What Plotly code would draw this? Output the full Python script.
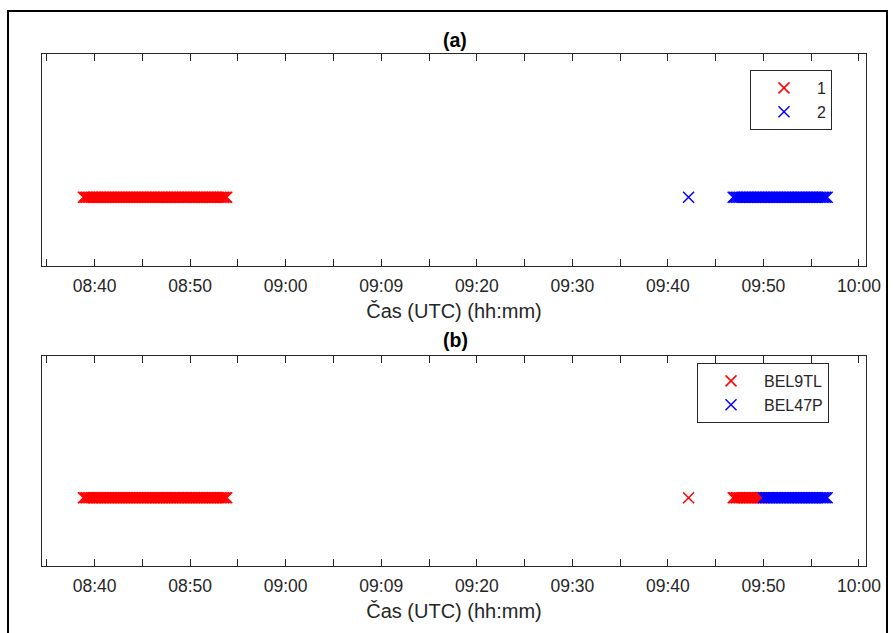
import plotly.graph_objects as go

DAY = "2020-01-01 "

# (a) grouping by cluster (hh:mm:ss, UTC)
group1_times = """
08:38:50
08:39:00 08:39:10 08:39:20 08:39:30 08:39:40 08:39:50
08:40:00 08:40:10 08:40:20 08:40:30 08:40:40 08:40:50
08:41:00 08:41:10 08:41:20 08:41:30 08:41:40 08:41:50
08:42:00 08:42:10 08:42:20 08:42:30 08:42:40 08:42:50
08:43:00 08:43:10 08:43:20 08:43:30 08:43:40 08:43:50
08:44:00 08:44:10 08:44:20 08:44:30 08:44:40 08:44:50
08:45:00 08:45:10 08:45:20 08:45:30 08:45:40 08:45:50
08:46:00 08:46:10 08:46:20 08:46:30 08:46:40 08:46:50
08:47:00 08:47:10 08:47:20 08:47:30 08:47:40 08:47:50
08:48:00 08:48:10 08:48:20 08:48:30 08:48:40 08:48:50
08:49:00 08:49:10 08:49:20 08:49:30 08:49:40 08:49:50
08:50:00 08:50:10 08:50:20 08:50:30 08:50:40 08:50:50
08:51:00 08:51:10 08:51:20 08:51:30 08:51:40 08:51:50
08:52:00 08:52:10 08:52:20 08:52:30 08:52:40 08:52:50
08:53:00 08:53:10 08:53:20 08:53:30 08:53:40 08:53:50
""".split()

group2_times = """
09:42:10
09:46:50
09:47:00 09:47:10 09:47:20 09:47:30 09:47:40 09:47:50
09:48:00 09:48:10 09:48:20 09:48:30 09:48:40 09:48:50
09:49:00 09:49:10 09:49:20 09:49:30 09:49:40 09:49:50
09:50:00 09:50:10 09:50:20 09:50:30 09:50:40 09:50:50
09:51:00 09:51:10 09:51:20 09:51:30 09:51:40 09:51:50
09:52:00 09:52:10 09:52:20 09:52:30 09:52:40 09:52:50
09:53:00 09:53:10 09:53:20 09:53:30 09:53:40 09:53:50
09:54:00 09:54:10 09:54:20 09:54:30 09:54:40 09:54:50
09:55:00 09:55:10 09:55:20 09:55:30 09:55:40 09:55:50
09:56:00 09:56:10 09:56:20 09:56:30 09:56:40
""".split()

# (b) grouping by aircraft
bel9tl_times = group1_times + """
09:42:10
09:46:50
09:47:00 09:47:10 09:47:20 09:47:30 09:47:40 09:47:50
09:48:00 09:48:10 09:48:20 09:48:30 09:48:40 09:48:50
09:49:00 09:49:10 09:49:20 09:49:30 09:49:40 09:49:50
""".split()

bel47p_times = """
09:50:00 09:50:10 09:50:20 09:50:30 09:50:40 09:50:50
09:51:00 09:51:10 09:51:20 09:51:30 09:51:40 09:51:50
09:52:00 09:52:10 09:52:20 09:52:30 09:52:40 09:52:50
09:53:00 09:53:10 09:53:20 09:53:30 09:53:40 09:53:50
09:54:00 09:54:10 09:54:20 09:54:30 09:54:40 09:54:50
09:55:00 09:55:10 09:55:20 09:55:30 09:55:40 09:55:50
09:56:00 09:56:10 09:56:20 09:56:30 09:56:40
""".split()

level = 1

tick_times = ["08:35", "08:40", "08:45", "08:50", "08:55", "09:00", "09:05", "09:10", "09:15",
              "09:20", "09:25", "09:30", "09:35", "09:40", "09:45", "09:50", "09:55", "10:00"]
tick_labels = ["", "08:40", "", "08:50", "", "09:00", "", "09:09", "",
               "09:20", "", "09:30", "", "09:40", "", "09:50", "", "10:00"]
x_range = ["08:34:30", "10:00:44"]
y_range = [0, 3.08]
axis_title = "Čas (UTC) (hh:mm)"

RED = "#FF0000"
BLUE = "#0000FF"
AX = "#262626"
FONT = "Liberation Sans, Arial, sans-serif"

W, H = 893, 633


def ts(lst):
    return [DAY + t for t in lst]


def mk(color):
    return dict(symbol="x-thin", size=11, line=dict(width=1.5, color=color), color=color)


fig = go.Figure()
fig.add_trace(go.Scatter(x=ts(group1_times), y=[level] * len(group1_times), mode="markers",
                         marker=mk(RED), name="1", xaxis="x", yaxis="y", legend="legend"))
fig.add_trace(go.Scatter(x=ts(group2_times), y=[level] * len(group2_times), mode="markers",
                         marker=mk(BLUE), name="2", xaxis="x", yaxis="y", legend="legend"))
fig.add_trace(go.Scatter(x=ts(bel9tl_times), y=[level] * len(bel9tl_times), mode="markers",
                         marker=mk(RED), name="BEL9TL", xaxis="x2", yaxis="y2", legend="legend2"))
fig.add_trace(go.Scatter(x=ts(bel47p_times), y=[level] * len(bel47p_times), mode="markers",
                         marker=mk(BLUE), name="BEL47P", xaxis="x2", yaxis="y2", legend="legend2"))


def px(x):
    return x / W


def py(y):
    return 1 - y / H


xcommon = dict(
    type="date", range=[DAY + x_range[0], DAY + x_range[1]],
    tickmode="array", tickvals=ts(tick_times), ticktext=tick_labels,
    ticks="inside", ticklen=7, tickwidth=1, tickcolor=AX,
    showline=True, linecolor=AX, linewidth=1, mirror="ticks",
    showgrid=False, zeroline=False, ticklabelstandoff=4,
    tickfont=dict(family=FONT, size=17.5, color=AX),
    title=dict(text=axis_title, font=dict(family=FONT, size=20, color=AX), standoff=8),
    domain=[px(42), px(866)], automargin=False,
)
ycommon = dict(
    range=y_range, showticklabels=False, ticks="", showline=True, linecolor=AX, linewidth=1,
    mirror=True, showgrid=False, zeroline=False, fixedrange=True,
)

legcommon = dict(
    xanchor="left", yanchor="top", bgcolor="white", bordercolor=AX, borderwidth=1,
    font=dict(family=FONT, size=16, color=AX), itemwidth=56, tracegroupgap=0,
)

fig.update_layout(
    width=W, height=H, margin=dict(l=0, r=0, t=0, b=0),
    paper_bgcolor="white", plot_bgcolor="white",
    xaxis=dict(xcommon, anchor="y"),
    yaxis=dict(ycommon, domain=[py(266), py(54)], anchor="x"),
    xaxis2=dict(xcommon, anchor="y2"),
    yaxis2=dict(ycommon, domain=[py(566), py(356)], anchor="x2"),
    legend=dict(legcommon, x=px(750), y=py(70)),
    legend2=dict(legcommon, x=px(697), y=py(363)),
    showlegend=True,
    annotations=[
        dict(text="<b>(a)</b>", x=px(455), y=py(40), xref="paper", yref="paper",
             showarrow=False, font=dict(family=FONT, size=19.5, color="black"),
             xanchor="center", yanchor="middle"),
        dict(text="<b>(b)</b>", x=px(455), y=py(340), xref="paper", yref="paper",
             showarrow=False, font=dict(family=FONT, size=19.5, color="black"),
             xanchor="center", yanchor="middle"),
    ],
    shapes=[dict(type="rect", xref="paper", yref="paper", x0=px(8), x1=px(887),
                 y0=-0.05, y1=py(11), line=dict(color="black", width=2))],
)

fig.write_html("out.html")
